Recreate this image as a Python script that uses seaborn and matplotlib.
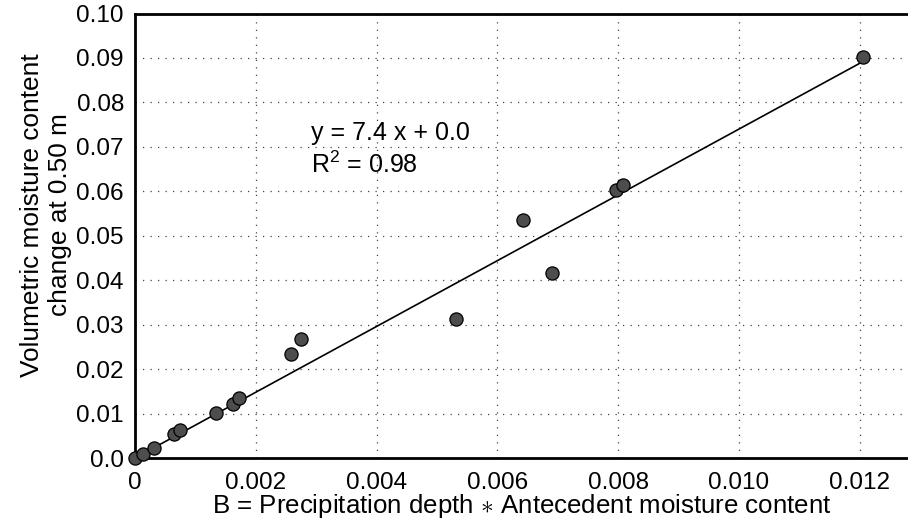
import numpy as np
import pandas as pd
import matplotlib
matplotlib.use("Agg")
import matplotlib.pyplot as plt
import seaborn as sns

# Data
b_values = [0.0, 0.000124, 0.00032, 0.00064, 0.00075, 0.00134, 0.00162, 0.00173,
            0.00258, 0.00275, 0.00531, 0.00643, 0.00691, 0.00796, 0.00808, 0.01205]
moisture_change = [0.0, 0.0009, 0.0022, 0.0053, 0.0063, 0.0102, 0.0121, 0.0136,
                   0.0233, 0.0267, 0.0313, 0.0535, 0.0416, 0.0602, 0.0615, 0.0903]
fit_slope = 7.4
fit_intercept = 0.0
fit_x = [0.0, 0.01205]
x_ticks = [0.0, 0.002, 0.004, 0.006, 0.008, 0.010, 0.012]
x_tick_labels = ["0", "0.002", "0.004", "0.006", "0.008", "0.010", "0.012"]
y_ticks = [0.0, 0.01, 0.02, 0.03, 0.04, 0.05, 0.06, 0.07, 0.08, 0.09, 0.10]
y_tick_labels = ["0.0", "0.01", "0.02", "0.03", "0.04", "0.05", "0.06", "0.07", "0.08", "0.09", "0.10"]

sns.set_theme(style="white")
plt.rcParams['font.family'] = ['Liberation Sans', 'DejaVu Sans']
plt.rcParams['mathtext.fontset'] = 'custom'
plt.rcParams['mathtext.rm'] = 'Liberation Sans'
plt.rcParams['mathtext.it'] = 'Liberation Sans:italic'

df = pd.DataFrame({"B": b_values, "dtheta": moisture_change})
fit_df = pd.DataFrame({"x": fit_x})
fit_df["y"] = fit_slope * fit_df["x"] + fit_intercept

W = 908
fig = plt.figure(figsize=(9.08, 5.22), dpi=100)
ax_w = 0.8713
ax = fig.add_axes([0.1487, 0.1226, ax_w, 0.8515])

ax.grid(True, which="major", color="#444444", linestyle=(0, (1, 5)), linewidth=0.9)
sns.lineplot(data=fit_df, x="x", y="y", ax=ax, color="black", linewidth=1.2, zorder=3)
sns.scatterplot(data=df, x="B", y="dtheta", ax=ax, s=90, color="#4d4d4d",
                edgecolor="black", linewidth=0.9, zorder=4, clip_on=False)

ax.set_xlim(0, 0.0131)
ax.set_ylim(0, 0.10)
ax.set_xticks(x_ticks)
ax.set_xticklabels(x_tick_labels)
ax.set_yticks(y_ticks)
ax.set_yticklabels(y_tick_labels)
ax.tick_params(axis="both", length=0, labelsize=17.5, colors="black")
ax.tick_params(axis="x", pad=10)
ax.tick_params(axis="y", pad=8)

for side in ["left", "top", "bottom"]:
    ax.spines[side].set_color("black")
    ax.spines[side].set_linewidth(2.0)
ax.spines["right"].set_visible(False)

ax_px = ax_w * W
ax.set_xlabel(r"B = Precipitation depth $\ast$ Antecedent moisture content",
              fontsize=18.6, color="black")
ax.xaxis.label.set_va("baseline")
ax.xaxis.set_label_coords((521.5 - 135) / ax_px, (458 - 513) / 444.5)

ax.set_ylabel("Volumetric moisture content\nchange at 0.50 m", fontsize=18.9,
              color="black", linespacing=1.2)
ax.yaxis.set_label_coords((72 - 135) / ax_px, (458 - 215) / 444.5)

ax.text(0.00291, 0.0715, "y = 7.4 x + 0.0", fontsize=18, color="black", va="baseline")
ax.text(0.00291, 0.0641, r"R$^2$ = 0.98", fontsize=18, color="black", va="baseline")

fig.savefig("out.png", dpi=100)
